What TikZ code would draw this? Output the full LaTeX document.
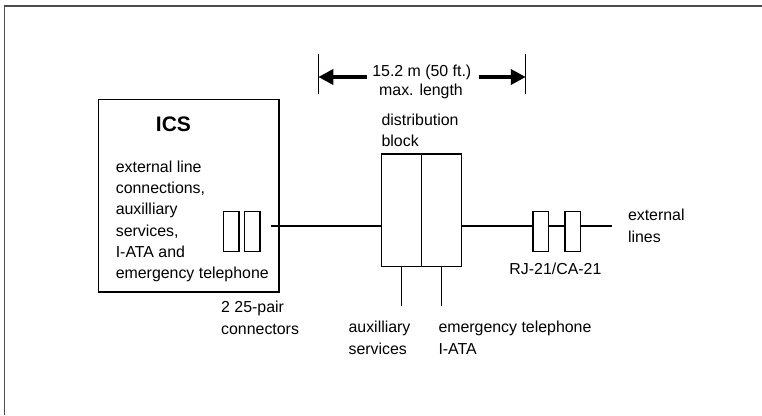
\documentclass[tikz,border=0pt]{standalone}
\usepackage{fontspec}
\setmainfont{Liberation Sans}
\usetikzlibrary{arrows.meta}
\tikzset{
	lbl/.style={inner sep=0pt, anchor=base west, align=left, font=\fontsize{15.9}{21.3}\selectfont},
	box/.style={draw, line width=1.4pt, inner sep=0pt},
	wire/.style={line width=1.3pt},
	bigarrow/.style={line width=3.6pt, -{Triangle[length=15pt,width=15pt]}},
}

\begin{document}
\begin{tikzpicture}[x=1pt,y=-1pt]
	\useasboundingbox (0,0) rectangle (762,415);
	\draw[line width=1.5pt, black!70] (4.5,415) -- (4.5,6) -- (762,6);
	
	% ICS cabinet with its two connectors
	\node[box, minimum width=180.7pt, minimum height=192.7pt] (ics) at (188.55,195.65) {};
	\node[lbl, anchor=base, font=\fontsize{21}{21}\selectfont\bfseries] (icsname) at (173.5,131.5) {ICS};
	\node[lbl] (icstxt) at (115.6,278.6) {external line\\connections,\\auxilliary\\services,\\I-ATA and\\emergency telephone};
	\node[box, minimum width=15.5pt, minimum height=40pt] (c1) at (231.3,231.7) {};
	\node[box, minimum width=15.5pt, minimum height=40pt] (c2) at (252.4,231.7) {};
	\node[lbl] (conntxt) at (221,334) {2 25-pair\\connectors};
	
	% distribution block
	\node[box, minimum width=40pt, minimum height=112.7pt] (dbL) at (401.4,210.35) {};
	\node[box, minimum width=40pt, minimum height=112.7pt] (dbR) at (441.4,210.35) {};
	\node[lbl] (disttxt) at (381.4,146.5) {distribution\\block};
	
	% RJ-21/CA-21 connectors
	\node[box, minimum width=15.6pt, minimum height=40pt] (rj1) at (540.8,231.7) {};
	\node[box, minimum width=15.6pt, minimum height=40pt] (rj2) at (572.7,231.7) {};
	\node[lbl, anchor=base] (rjtxt) at (555.4,274) {RJ-21/CA-21};
	\node[lbl] (exttxt) at (627.8,242) {external\\lines};
	
	\node[lbl] (auxtxt) at (348.4,354) {auxilliary\\services};
	\node[lbl] (emgtxt) at (438.3,354) {emergency telephone\\I-ATA};
	
	% wiring
	\coordinate (icsOut) at (270.6,226);
	\coordinate (extEnd) at (612.2,226);
	\coordinate (auxEnd) at (401.4,306);
	\coordinate (emgEnd) at (441.4,306);
	\draw[wire] (icsOut) -- (icsOut -| dbL.west);
	\draw[wire] (dbR.east |- icsOut) -- (icsOut -| rj1.west);
	\draw[wire] (icsOut -| rj1.east) -- (icsOut -| rj2.west);
	\draw[wire] (icsOut -| rj2.east) -- (extEnd);
	\draw[wire] (dbL.south) -- (auxEnd);
	\draw[wire] (dbR.south) -- (emgEnd);
	
	% max. length
	\node[lbl, anchor=base] (len) at (421.8,76.5) {15.2 m (50 ft.)};
	\node[lbl, anchor=base] (maxlen) at (421,95) {max. length};
	\coordinate (tickLt) at (318.3,54);
	\coordinate (tickLb) at (318.3,94);
	\coordinate (tickRt) at (525.8,54);
	\coordinate (tickRb) at (525.8,94);
	\coordinate (arrL) at (367,77);
	\coordinate (arrR) at (478.6,77);
	\draw[wire] (tickLt) -- (tickLb);
	\draw[wire] (tickRt) -- (tickRb);
	\draw[bigarrow] (arrL) -- (arrL -| tickLt);
	\draw[bigarrow] (arrR) -- (arrR -| tickRt);
\end{tikzpicture}
\end{document}
